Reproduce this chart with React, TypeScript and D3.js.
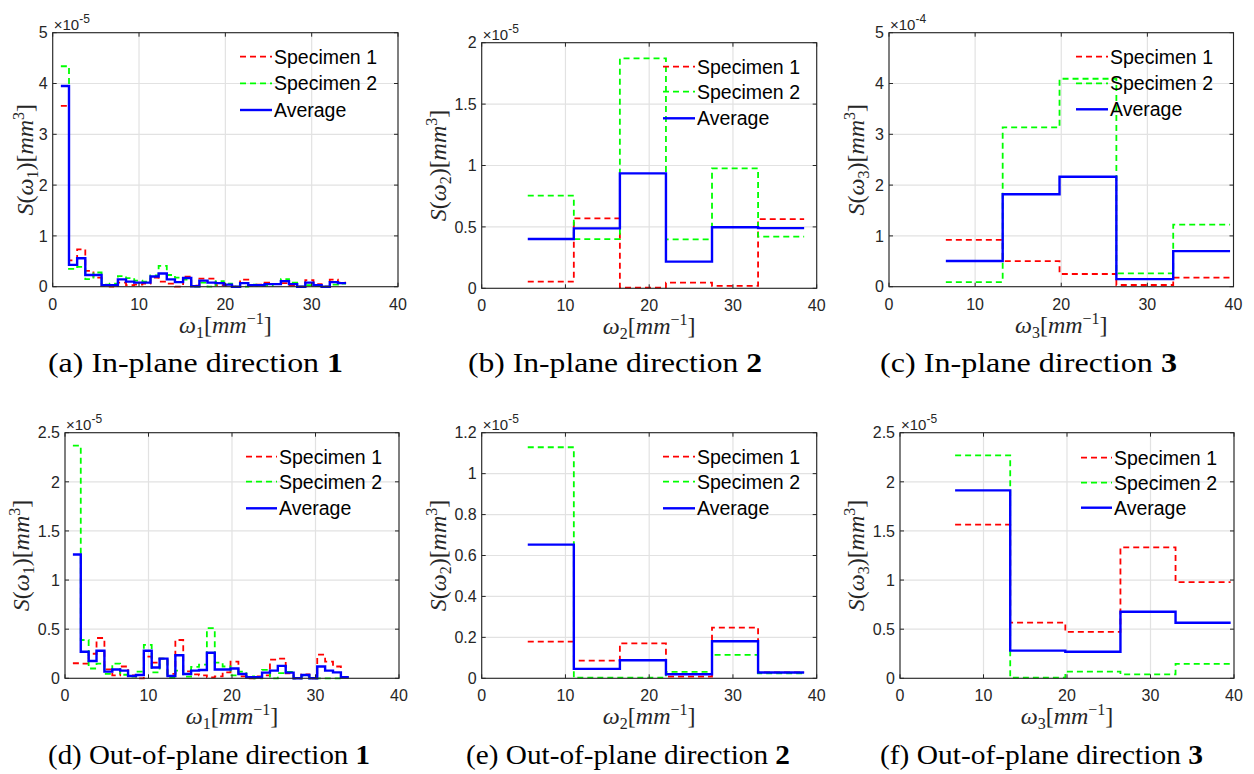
import React from "react";
import * as d3 from "d3";

// ---------- data ----------
const RED = "#ff0000";
const GREEN = "#00ff00";
const BLUE = "#0000ff";
const AXIS_COLOR = "#262626";
const GRID_COLOR = "#e2e2e2";

// Frequency bin edges (mm^-1)
const FREQ_STEP_1 = 0.944;
const EDGES_DIR1 = d3.range(1, 37).map((k) => +(k * FREQ_STEP_1).toFixed(3));
const EDGES_DIR2 = [5.5, 11, 16.5, 22, 27.5, 33, 38.5];
const EDGES_DIR3 = [6.6, 13.2, 19.8, 26.4, 33, 39.6];

const X_TICKS = [0, 10, 20, 30, 40];

// In-plane direction 1 (x 1e-5)
const IN1_SPEC1 = [3.56, 0.52, 0.735, 0.31, 0.18, 0.02, 0.0, 0.08, 0.03, 0.04, 0.06, 0.18, 0.1, 0.06, 0.0, 0.2, 0.02, 0.16, 0.16, 0.03, 0.02, 0.0, 0.14, 0.02, 0.04, 0.08, 0.05, 0.07, 0.02, 0.0, 0.13, 0.05, 0.0, 0.14, 0.08];
const IN1_SPEC2 = [4.34, 0.35, 0.39, 0.15, 0.28, 0.04, 0.06, 0.21, 0.17, 0.12, 0.1, 0.22, 0.41, 0.23, 0.18, 0.14, 0.0, 0.08, 0.0, 0.11, 0.06, 0.0, 0.0, 0.04, 0.02, 0.02, 0.05, 0.15, 0.08, 0.0, 0.03, 0.01, 0.0, 0.04, 0.06];
const IN1_AVG = [3.95, 0.43, 0.56, 0.23, 0.23, 0.03, 0.03, 0.145, 0.1, 0.08, 0.08, 0.2, 0.26, 0.145, 0.09, 0.17, 0.01, 0.12, 0.08, 0.07, 0.04, 0.0, 0.07, 0.03, 0.03, 0.05, 0.05, 0.11, 0.05, 0.0, 0.08, 0.03, 0.0, 0.09, 0.07];

// In-plane direction 2 (x 1e-5)
const IN2_SPEC1 = [0.054, 0.57, 0.005, 0.046, 0.019, 0.564];
const IN2_SPEC2 = [0.754, 0.4, 1.872, 0.399, 0.977, 0.42];
const IN2_AVG = [0.402, 0.488, 0.936, 0.217, 0.497, 0.49];

// In-plane direction 3 (x 1e-4)
const IN3_SPEC1 = [0.92, 0.505, 0.25, 0.033, 0.177];
const IN3_SPEC2 = [0.092, 3.137, 4.094, 0.262, 1.22];
const IN3_AVG = [0.505, 1.82, 2.165, 0.15, 0.7];

// Out-of-plane direction 1 (x 1e-5)
const OUT1_SPEC1 = [0.153, 0.15, 0.25, 0.41, 0.09, 0.03, 0.12, 0.03, 0.0, 0.22, 0.16, 0.2, 0.045, 0.39, 0.07, 0.04, 0.03, 0.01, 0.02, 0.06, 0.17, 0.02, 0.0, 0.02, 0.03, 0.19, 0.2, 0.05, 0.0, 0.04, 0.0, 0.24, 0.17, 0.12, 0.01];
const OUT1_SPEC2 = [2.368, 0.39, 0.1, 0.15, 0.045, 0.15, 0.036, 0.018, 0.068, 0.34, 0.06, 0.2, 0.003, 0.078, 0.018, 0.116, 0.14, 0.51, 0.16, 0.12, 0.03, 0.068, 0.02, 0.0, 0.086, 0.0, 0.052, 0.066, 0.0, 0.028, 0.0, 0.0, 0.0, 0.0, 0.01];
const OUT1_AVG = [1.26, 0.27, 0.176, 0.28, 0.068, 0.09, 0.078, 0.024, 0.034, 0.28, 0.11, 0.2, 0.024, 0.234, 0.044, 0.078, 0.085, 0.26, 0.09, 0.09, 0.1, 0.044, 0.01, 0.01, 0.058, 0.078, 0.126, 0.058, 0.0, 0.034, 0.0, 0.12, 0.078, 0.06, 0.01];

// Out-of-plane direction 2 (x 1e-5)
const OUT2_SPEC1 = [0.179, 0.086, 0.171, 0.008, 0.248, 0.029];
const OUT2_SPEC2 = [1.129, 0.003, 0.003, 0.031, 0.114, 0.024];
const OUT2_AVG = [0.653, 0.046, 0.088, 0.02, 0.181, 0.028];

// Out-of-plane direction 3 (x 1e-5)
const OUT3_SPEC1 = [1.564, 0.566, 0.472, 1.333, 0.98];
const OUT3_SPEC2 = [2.269, 0.007, 0.068, 0.04, 0.146];
const OUT3_AVG = [1.913, 0.282, 0.271, 0.678, 0.566];

const TICKS_0_5 = [0, 1, 2, 3, 4, 5];
const TICKS_0_2 = [0, 0.5, 1, 1.5, 2];
const TICKS_0_25 = [0, 0.5, 1, 1.5, 2, 2.5];
const TICKS_0_12 = [0, 0.2, 0.4, 0.6, 0.8, 1, 1.2];

const SERIES_NAMES = ["Specimen 1", "Specimen 2", "Average"];

// ---------- layout / options ----------
type Panel = {
  dir: string;
  edges: number[];
  s1: number[];
  s2: number[];
  avg: number[];
  yMax: number;
  yTicks: number[];
  exp: string;
  caption: string;
  box: { x0: number; x1: number; y0: number; y1: number };
  legend: { lx0: number; lx1: number; tx: number; rows: number[] };
  ylabelX: number;
  captionX: number;
  captionW: number;
  captionY: number;
};

const PANELS: Panel[] = [
  {
    dir: "1", edges: EDGES_DIR1, s1: IN1_SPEC1, s2: IN1_SPEC2, avg: IN1_AVG,
    yMax: 5, yTicks: TICKS_0_5, exp: "-5", caption: "(a) In-plane direction ",
    box: { x0: 52.7, x1: 398, y0: 32.7, y1: 286.7 },
    legend: { lx0: 240, lx1: 272, tx: 274, rows: [56.7, 83.3, 110] },
    ylabelX: 25, captionX: 48, captionW: 295, captionY: 372,
  },
  {
    dir: "2", edges: EDGES_DIR2, s1: IN2_SPEC1, s2: IN2_SPEC2, avg: IN2_AVG,
    yMax: 2, yTicks: TICKS_0_2, exp: "-5", caption: "(b) In-plane direction ",
    box: { x0: 481.7, x1: 816.7, y0: 42.7, y1: 288.3 },
    legend: { lx0: 663, lx1: 695, tx: 697, rows: [66.7, 91.7, 118.3] },
    ylabelX: 438, captionX: 468, captionW: 294, captionY: 372,
  },
  {
    dir: "3", edges: EDGES_DIR3, s1: IN3_SPEC1, s2: IN3_SPEC2, avg: IN3_AVG,
    yMax: 5, yTicks: TICKS_0_5, exp: "-4", caption: "(c) In-plane direction ",
    box: { x0: 889, x1: 1233.5, y0: 32.7, y1: 286.7 },
    legend: { lx0: 1076, lx1: 1108, tx: 1110, rows: [56.7, 83.3, 109.3] },
    ylabelX: 856, captionX: 880, captionW: 297, captionY: 372,
  },
  {
    dir: "1", edges: EDGES_DIR1, s1: OUT1_SPEC1, s2: OUT1_SPEC2, avg: OUT1_AVG,
    yMax: 2.5, yTicks: TICKS_0_25, exp: "-5", caption: "(d) Out-of-plane direction ",
    box: { x0: 65, x1: 399, y0: 432.7, y1: 678.3 },
    legend: { lx0: 246, lx1: 277, tx: 279, rows: [456.7, 481.7, 508.3] },
    ylabelX: 21, captionX: 48, captionW: 322, captionY: 764,
  },
  {
    dir: "2", edges: EDGES_DIR2, s1: OUT2_SPEC1, s2: OUT2_SPEC2, avg: OUT2_AVG,
    yMax: 1.2, yTicks: TICKS_0_12, exp: "-5", caption: "(e) Out-of-plane direction ",
    box: { x0: 481.7, x1: 816.7, y0: 432.7, y1: 678.3 },
    legend: { lx0: 663, lx1: 695, tx: 697, rows: [456.7, 481.7, 508.3] },
    ylabelX: 438, captionX: 466, captionW: 324, captionY: 764,
  },
  {
    dir: "3", edges: EDGES_DIR3, s1: OUT3_SPEC1, s2: OUT3_SPEC2, avg: OUT3_AVG,
    yMax: 2.5, yTicks: TICKS_0_25, exp: "-5", caption: "(f) Out-of-plane direction ",
    box: { x0: 900, x1: 1234, y0: 432.7, y1: 678.3 },
    legend: { lx0: 1081, lx1: 1112, tx: 1114, rows: [457.7, 482.7, 507.7] },
    ylabelX: 856, captionX: 880, captionW: 323, captionY: 764,
  },
];

const SANS = "'Liberation Sans', Arial, Helvetica, sans-serif";
const SERIF = "'Liberation Serif', 'Times New Roman', serif";

function stairPath(
  edges: number[],
  vals: number[],
  x: d3.ScaleLinear<number, number>,
  y: d3.ScaleLinear<number, number>
) {
  const pts: [number, number][] = edges.map((e, i) => [x(e), y(vals[Math.min(i, vals.length - 1)])]);
  return d3.line().curve(d3.curveStepAfter)(pts) || "";
}

function fmt(v: number) {
  return d3.format("~g")(v);
}

function ChartPanel({ p }: { p: Panel }) {
  const { x0, x1, y0, y1 } = p.box;
  const x = d3.scaleLinear().domain([0, 40]).range([x0, x1]);
  const y = d3.scaleLinear().domain([0, p.yMax]).range([y1, y0]);
  const tickLen = 4;
  const colors = [RED, GREEN, BLUE];
  const series = [p.s1, p.s2, p.avg];
  const yMid = (y0 + y1) / 2;
  const xMid = (x0 + x1) / 2;

  return (
    <g>
      {/* grid */}
      {X_TICKS.map((t) => (
        <line key={"gx" + t} x1={x(t)} x2={x(t)} y1={y0} y2={y1} stroke={GRID_COLOR} strokeWidth={1.2} />
      ))}
      {p.yTicks.map((t) => (
        <line key={"gy" + t} x1={x0} x2={x1} y1={y(t)} y2={y(t)} stroke={GRID_COLOR} strokeWidth={1.2} />
      ))}

      {/* series */}
      {series.map((vals, i) => (
        <path
          key={"s" + i}
          d={stairPath(p.edges, vals, x, y)}
          fill="none"
          stroke={colors[i]}
          strokeWidth={i === 2 ? 2.4 : 1.8}
          strokeDasharray={i === 2 ? undefined : "6,4"}
        />
      ))}

      {/* axes box */}
      <rect x={x0} y={y0} width={x1 - x0} height={y1 - y0} fill="none" stroke={AXIS_COLOR} strokeWidth={1.1} />
      {X_TICKS.map((t) => (
        <g key={"tx" + t}>
          <line x1={x(t)} x2={x(t)} y1={y1} y2={y1 - tickLen} stroke={AXIS_COLOR} strokeWidth={1} />
          <line x1={x(t)} x2={x(t)} y1={y0} y2={y0 + tickLen} stroke={AXIS_COLOR} strokeWidth={1} />
          <text x={x(t)} y={y1 + 23} textAnchor="middle" fontFamily={SANS} fontSize={16} fill={AXIS_COLOR}>
            {fmt(t)}
          </text>
        </g>
      ))}
      {p.yTicks.map((t) => (
        <g key={"ty" + t}>
          <line x1={x0} x2={x0 + tickLen} y1={y(t)} y2={y(t)} stroke={AXIS_COLOR} strokeWidth={1} />
          <line x1={x1} x2={x1 - tickLen} y1={y(t)} y2={y(t)} stroke={AXIS_COLOR} strokeWidth={1} />
          <text x={x0 - 5} y={y(t)} dy="0.36em" textAnchor="end" fontFamily={SANS} fontSize={16} fill={AXIS_COLOR}>
            {fmt(t)}
          </text>
        </g>
      ))}

      {/* exponent */}
      <text x={x0 + 1} y={y0 - 3} fontFamily={SANS} fontSize={15} fill={AXIS_COLOR}>
        ×10
        <tspan dy={-7} fontSize={12}>
          {p.exp}
        </tspan>
      </text>

      {/* axis labels */}
      <text x={xMid} y={y1 + 46} textAnchor="middle" fontFamily={SERIF} fontSize={24} fill={AXIS_COLOR}>
        <tspan fontStyle="italic">ω</tspan>
        <tspan fontSize={16} dy={5}>{p.dir}</tspan>
        <tspan dy={-5}>[</tspan>
        <tspan fontStyle="italic">mm</tspan>
        <tspan fontSize={16} dy={-9}>−1</tspan>
        <tspan dy={9}>]</tspan>
      </text>
      <text
        transform={`translate(${p.ylabelX},${yMid}) rotate(-90)`}
        textAnchor="middle"
        dy="0.35em"
        fontFamily={SERIF}
        fontSize={24}
        fill={AXIS_COLOR}
      >
        <tspan fontStyle="italic">S</tspan>
        <tspan>(</tspan>
        <tspan fontStyle="italic">ω</tspan>
        <tspan fontSize={16} dy={5}>{p.dir}</tspan>
        <tspan dy={-5}>)[</tspan>
        <tspan fontStyle="italic">mm</tspan>
        <tspan fontSize={16} dy={-9}>3</tspan>
        <tspan dy={9}>]</tspan>
      </text>

      {/* legend */}
      {SERIES_NAMES.map((name, i) => (
        <g key={"lg" + i}>
          <line
            x1={p.legend.lx0}
            x2={p.legend.lx1}
            y1={p.legend.rows[i]}
            y2={p.legend.rows[i]}
            stroke={colors[i]}
            strokeWidth={i === 2 ? 2.4 : 1.8}
            strokeDasharray={i === 2 ? undefined : "6,4"}
          />
          <text x={p.legend.tx} y={p.legend.rows[i]} dy="0.36em" fontFamily={SANS} fontSize={19.5} fill="#000">
            {name}
          </text>
        </g>
      ))}

      {/* caption */}
      <text
        x={p.captionX}
        y={p.captionY}
        fontFamily={SERIF}
        fontSize={28}
        fill="#000"
        textLength={p.captionW}
        lengthAdjust="spacingAndGlyphs"
      >
        {p.caption}
        <tspan fontWeight="bold">{p.dir}</tspan>
      </text>
    </g>
  );
}

export default function App() {
  return (
    <svg
      width={1254}
      height={774}
      viewBox="0 0 1254 774"
      style={{ display: "block", position: "absolute", left: 0, top: 0, background: "#fff" }}
    >
      <rect x={0} y={0} width={1254} height={774} fill="#fff" />
      {PANELS.map((p, i) => (
        <ChartPanel key={i} p={p} />
      ))}
    </svg>
  );
}
